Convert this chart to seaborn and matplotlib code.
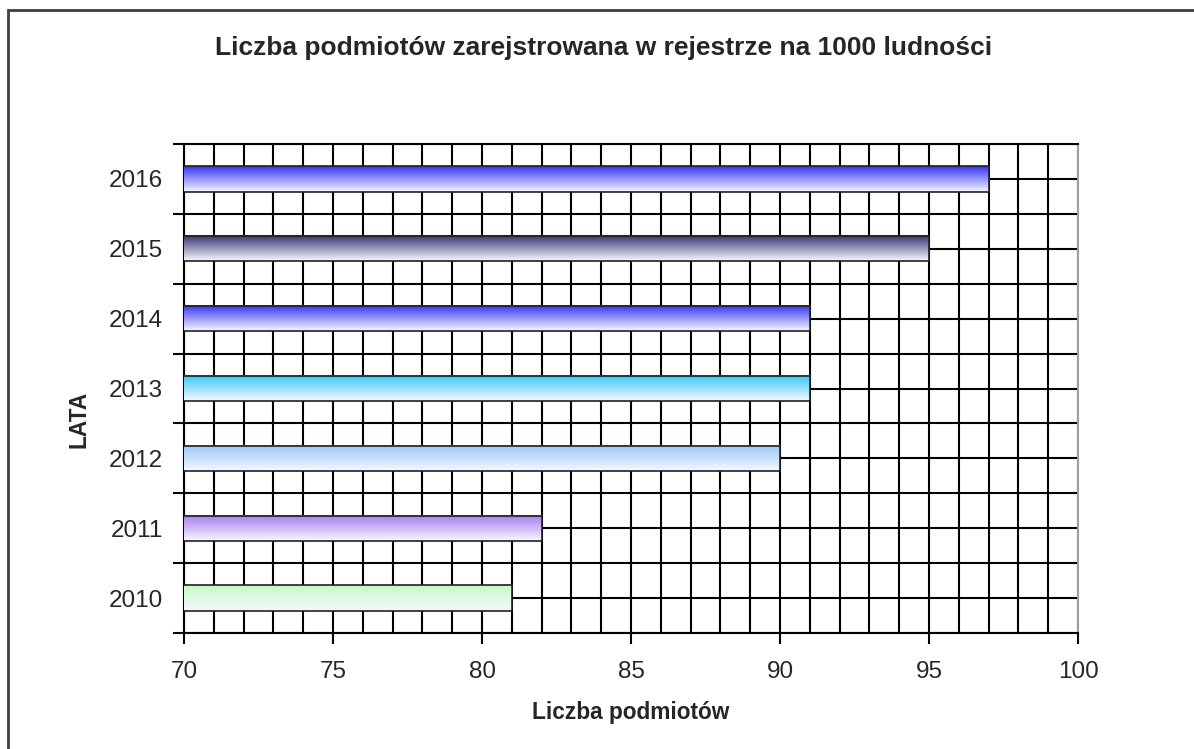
import numpy as np
import pandas as pd
import matplotlib
matplotlib.use("Agg")
import matplotlib.pyplot as plt
import matplotlib.patches as mpatches
from matplotlib.colors import to_rgb
import seaborn as sns

# ------------------------------------------------------------------
# Dane
# ------------------------------------------------------------------
lata = ["2016", "2015", "2014", "2013", "2012", "2011", "2010"]
liczba_podmiotow = [97, 95, 91, 91, 90, 82, 81]
kolory = ["#3434F4", "#34346C", "#3434F4", "#34C8F8", "#98C8FC", "#A87CF4", "#C8F8C8"]

df = pd.DataFrame({"Rok": lata, "Liczba": liczba_podmiotow})

# ------------------------------------------------------------------
# Wykres
# ------------------------------------------------------------------
sns.set_theme(style="white")
plt.rcParams["font.family"] = ["Liberation Sans", "DejaVu Sans"]

W, H = 1194, 749
fig = plt.figure(figsize=(W / 100, H / 100), dpi=100)
ax = fig.add_axes([184 / W, 1 - 633 / H, 894 / W, 489 / H])

sns.barplot(data=df, x="Liczba", y="Rok", order=lata, hue="Rok",
            palette=kolory, legend=False, orient="h", width=0.36,
            ax=ax, zorder=2)

ax.set_xlim(70, 100)
ax.set_ylim(6.5, -0.5)

# gradient w słupkach (kolor u góry -> biały u dołu)
for patch, kol in zip(ax.patches, kolory):
    x0, y0 = patch.get_x(), patch.get_y()
    w, h = patch.get_width(), patch.get_height()
    c = np.array(to_rgb(kol))
    t = np.linspace(0, 1, 64)[:, None]
    grad = (1 - t) * c + t * np.array([0.97, 0.97, 1.0])
    grad = grad[:, None, :]
    ax.imshow(grad, extent=(70, 70 + (x0 + w - 70), y0 + h, y0),
              origin="upper", aspect="auto", zorder=3, interpolation="bilinear")
    patch.set_facecolor("none")
    patch.set_edgecolor("#202020")
    patch.set_linewidth(1.2)
    patch.set_zorder(4)

ax.set_xlim(70, 100)
ax.set_ylim(6.5, -0.5)

# siatka
for xv in range(70, 101):
    ax.axvline(xv, color="black", lw=1.5, zorder=1)
for yv in np.arange(-0.5, 6.51, 0.5):
    ax.axhline(yv, color="black", lw=1.5, zorder=1)

for s in ["top", "left", "bottom"]:
    ax.spines[s].set_color("black")
    ax.spines[s].set_linewidth(1.5)
ax.spines["right"].set_color("#a0a0a0")
ax.spines["right"].set_linewidth(1.5)

ax.set_xticks(range(70, 101, 5))
ax.set_yticks(range(len(lata)))
ax.set_yticklabels(lata)
ax.set_yticks(np.arange(-0.5, 6.51, 1), minor=True)
ax.tick_params(axis="x", which="major", direction="out", length=8, width=1.5,
               color="black", labelsize=17.5, pad=12, bottom=True)
ax.tick_params(axis="y", which="major", length=0, labelsize=17.5, pad=15, left=True)
ax.tick_params(axis="y", which="minor", direction="out", length=8, width=1.5,
               color="black", left=True)

ax.set_xlabel("Liczba podmiotów", fontsize=16.3, fontweight="bold",
              va="center")
ax.xaxis.set_label_coords(0.5, (633 - 713) / 489)
ax.set_ylabel("LATA", fontsize=16.3, fontweight="bold", va="center")
ax.yaxis.set_label_coords((79 - 184) / 894, (633 - 419) / 489)

fig.text(604 / W, 1 - 48 / H, "Liczba podmiotów zarejstrowana w rejestrze na 1000 ludności",
         ha="center", va="center", fontsize=19, fontweight="bold")

# ramka wykresu
ramka = mpatches.Rectangle((8 / W, -0.1), 1.2, 1.1 - 10 / H, transform=fig.transFigure,
                           fill=False, edgecolor="#404040", lw=2)
fig.patches.append(ramka)

fig.savefig("out.png", dpi=100, facecolor="white")
